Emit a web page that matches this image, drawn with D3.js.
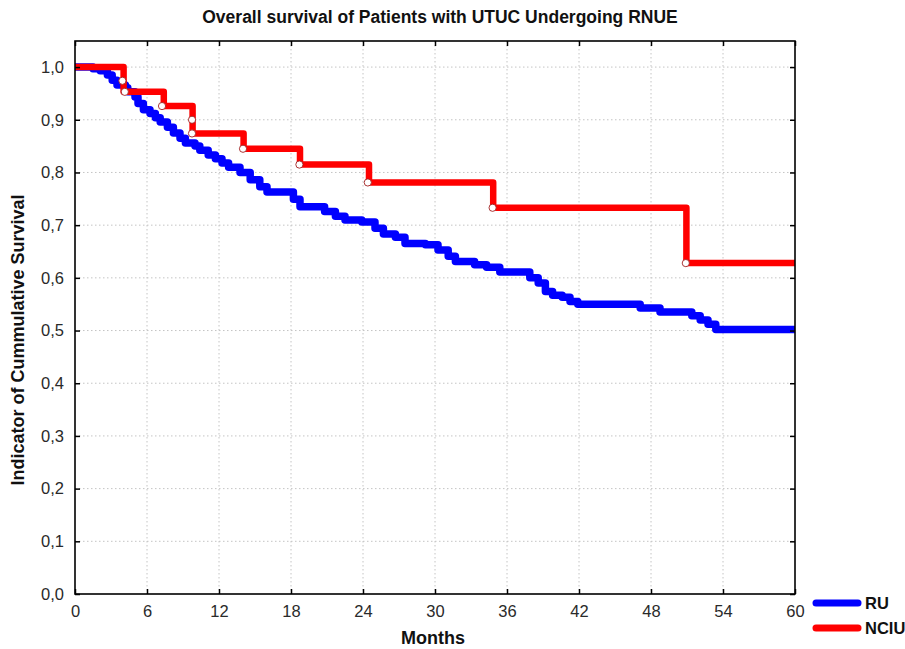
<!DOCTYPE html>
<html>
<head>
<meta charset="utf-8">
<script src="https://cdn.jsdelivr.net/npm/d3@7"></script>
<style>
  body { margin: 0; background: #fff; }
  svg { display: block; font-family: "Liberation Sans", Arial, sans-serif; }
  .grid line { stroke: #c4c4c4; stroke-width: 1; stroke-dasharray: 1.5 2.5; }
</style>
</head>
<body>
<svg id="chart" width="905" height="649"></svg>
<script>
// x ticks (months) and y ticks
const monthTicks = [0, 6, 12, 18, 24, 30, 36, 42, 48, 54, 60];
const survTicks = [0, 0.1, 0.2, 0.3, 0.4, 0.5, 0.6, 0.7, 0.8, 0.9, 1.0];

// RU curve
const ruTime = [0, 1.5, 2.1, 2.7, 3.1, 3.5, 4.2, 4.4, 5.0, 5.25, 5.7, 6.25, 6.7, 7.1, 7.7, 8.2, 8.75, 9.2, 10.0, 10.4,
  11.1, 11.7, 12.25, 12.8, 13.75, 14.6, 15.4, 16.0, 17.5, 18.2, 18.75, 20.0, 20.8, 21.7, 22.5, 23.9, 25.0, 25.7,
  26.7, 27.5, 29.2, 30.25, 31.1, 31.7, 33.3, 34.3, 35.4, 37.9, 38.6, 39.2, 39.8, 40.6, 41.25, 41.9, 47.1, 48.75,
  51.4, 52.1, 52.75, 53.4, 60];
const ruSurv = [1.0, 0.997, 0.993, 0.985, 0.975, 0.966, 0.961, 0.953, 0.943, 0.931, 0.919, 0.912, 0.904, 0.896, 0.886, 0.875, 0.865, 0.856, 0.85, 0.842,
  0.833, 0.826, 0.818, 0.81, 0.8, 0.786, 0.773, 0.763, 0.763, 0.749, 0.735, 0.735, 0.726, 0.717, 0.71, 0.706, 0.694, 0.683,
  0.677, 0.665, 0.663, 0.653, 0.641, 0.631, 0.625, 0.62, 0.611, 0.6, 0.59, 0.574, 0.567, 0.563, 0.555, 0.55, 0.543, 0.535,
  0.528, 0.52, 0.512, 0.502, 0.502];

// NCIU curve
const nciuTime = [0, 4.05, 7.4, 9.8, 14.05, 18.75, 24.5, 34.85, 50.95, 60];
const nciuSurv = [1.0, 0.953, 0.926, 0.874, 0.845, 0.815, 0.781, 0.733, 0.628, 0.628];

// NCIU censored marks
const censTime = [3.95, 4.15, 7.25, 9.75, 9.75, 14.0, 18.7, 24.4, 34.8, 50.9];
const censSurv = [0.974, 0.953, 0.926, 0.9, 0.874, 0.845, 0.815, 0.781, 0.733, 0.628];

const seriesNames = ['RU', 'NCIU'];
const seriesColors = ['#0000ff', '#ff0000'];

const svg = d3.select('#chart');
const plotLeft = 75, plotRight = 795, plotTop = 41, plotBottom = 594;

const x = d3.scaleLinear().domain([0, 60]).range([plotLeft, plotRight]);
const y = d3.scaleLinear().domain([0, 1.0495]).range([plotBottom, plotTop]);

// grid
const grid = svg.append('g').attr('class', 'grid');
grid.selectAll('line.v').data(monthTicks.slice(1, -1)).enter().append('line')
  .attr('x1', d => x(d)).attr('x2', d => x(d)).attr('y1', plotTop).attr('y2', plotBottom);
grid.selectAll('line.h').data(survTicks.slice(1)).enter().append('line')
  .attr('x1', plotLeft).attr('x2', plotRight).attr('y1', d => y(d)).attr('y2', d => y(d));

// curves
const line = d3.line().x(d => x(d[0])).y(d => y(d[1])).curve(d3.curveStepAfter);
const ru = ruTime.map((t, i) => [t, ruSurv[i]]);
const nciu = nciuTime.map((t, i) => [t, nciuSurv[i]]);

svg.append('path').datum(ru).attr('d', line)
  .attr('fill', 'none').attr('stroke', seriesColors[0]).attr('stroke-width', 7.5).attr('stroke-linejoin', 'round');
svg.append('path').datum(nciu).attr('d', line)
  .attr('fill', 'none').attr('stroke', seriesColors[1]).attr('stroke-width', 6.5).attr('stroke-linejoin', 'round');

svg.append('g').selectAll('circle').data(censTime).enter().append('circle')
  .attr('cx', d => x(d)).attr('cy', (d, i) => y(censSurv[i])).attr('r', 3.6)
  .attr('fill', '#fff').attr('stroke', '#a02020').attr('stroke-width', 0.9);

// axes, ticks inside on all four sides
const fmt = d => d3.format('.1f')(d).replace('.', ',');
const axB = svg.append('g').attr('transform', `translate(0,${plotBottom})`)
  .call(d3.axisBottom(x).tickValues(monthTicks).tickSize(-5).tickPadding(11));
const axT = svg.append('g').attr('transform', `translate(0,${plotTop})`)
  .call(d3.axisTop(x).tickValues(monthTicks).tickSize(-5).tickFormat(''));
const axL = svg.append('g').attr('transform', `translate(${plotLeft},0)`)
  .call(d3.axisLeft(y).tickValues(survTicks).tickSize(-5).tickPadding(11).tickFormat(fmt));
const axR = svg.append('g').attr('transform', `translate(${plotRight},0)`)
  .call(d3.axisRight(y).tickValues(survTicks).tickSize(-5).tickFormat(''));

[axB, axT, axL, axR].forEach(a => {
  a.select('.domain').remove();
  a.selectAll('.tick line').attr('stroke', '#000').attr('stroke-width', 1.5);
  a.selectAll('.tick text').attr('font-size', 16.5).attr('fill', '#2a2a2a')
    .attr('font-family', '"Liberation Sans", Arial, sans-serif');
});

svg.append('rect').attr('x', plotLeft).attr('y', plotTop)
  .attr('width', plotRight - plotLeft).attr('height', plotBottom - plotTop)
  .attr('fill', 'none').attr('stroke', '#000').attr('stroke-width', 1.6);

// titles
svg.append('text').attr('x', 440).attr('y', 23).attr('text-anchor', 'middle')
  .attr('font-size', 17.5).attr('font-weight', 'bold').attr('fill', '#111')
  .text('Overall survival of Patients with UTUC Undergoing RNUE');
svg.append('text').attr('x', 433).attr('y', 644).attr('text-anchor', 'middle')
  .attr('font-size', 18).attr('font-weight', 'bold').attr('fill', '#111').text('Months');
svg.append('text').attr('transform', 'translate(24,340) rotate(-90)').attr('text-anchor', 'middle')
  .attr('font-size', 18).attr('font-weight', 'bold').attr('fill', '#111').text('Indicator of Cummulative Survival');

// legend
const leg = svg.append('g');
seriesNames.forEach((name, i) => {
  const ly = 603 + i * 25;
  leg.append('line').attr('x1', 816).attr('x2', 858).attr('y1', ly).attr('y2', ly)
    .attr('stroke', seriesColors[i]).attr('stroke-width', 7).attr('stroke-linecap', 'round');
  leg.append('text').attr('x', 865).attr('y', ly + 6).attr('font-size', 16.5).attr('font-weight', 'bold')
    .attr('fill', '#111').text(name);
});
</script>
</body>
</html>
